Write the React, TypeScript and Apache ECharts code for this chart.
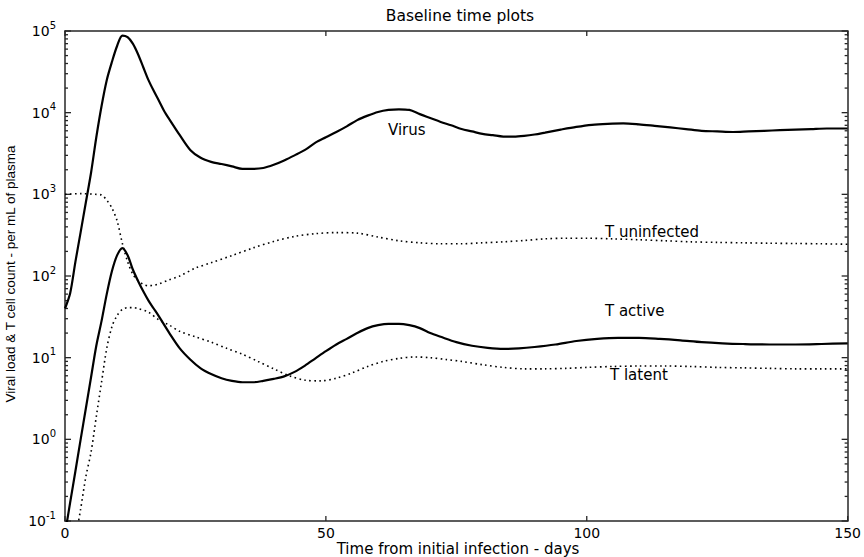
import React, { useEffect, useRef } from 'react';
import * as echarts from 'echarts';

const FONT = '"DejaVu Sans", Verdana, sans-serif';
const YFONT = '"Liberation Sans", Arial, sans-serif';
const FRAME = '#262626';

// ---- data (days, values per mL) ----
const virusDays = [0, 1, 2, 3, 4, 5, 6, 7, 8, 9, 10, 11, 12, 13, 14, 15, 16, 17, 18, 19, 20, 22, 24, 26, 28, 30, 32, 34, 36, 38, 40, 42, 44, 46, 48, 50, 52, 54, 56, 58, 60, 62, 64, 66, 68, 70, 72, 74, 76, 78, 80, 82, 84, 86, 88, 90, 92, 95, 98, 101, 104, 107, 110, 113, 116, 119, 122, 125, 128, 131, 134, 137, 140, 143, 146, 150];
const virusValues = [40, 62, 150, 345, 800, 1850, 5000, 12000, 25000, 42000, 66000, 88000, 84000, 70000, 52000, 36000, 25000, 18500, 14000, 10500, 8300, 5300, 3500, 2800, 2500, 2350, 2200, 2050, 2050, 2100, 2300, 2600, 3000, 3500, 4300, 5000, 5800, 6800, 8100, 9200, 10200, 10800, 11000, 10800, 9600, 8600, 7700, 7000, 6300, 5900, 5500, 5300, 5100, 5100, 5200, 5400, 5700, 6200, 6700, 7100, 7300, 7400, 7200, 6900, 6600, 6300, 6000, 5900, 5800, 5900, 6000, 6100, 6200, 6300, 6400, 6400];

const tUninfDays = [0, 3, 6, 7, 8, 9, 10, 11, 12, 13, 14, 15, 16, 17, 18, 20, 22, 25, 28, 32, 36, 40, 44, 48, 52, 56, 60, 64, 68, 72, 76, 80, 84, 88, 92, 96, 100, 105, 110, 115, 120, 125, 130, 135, 140, 145, 150];
const tUninfValues = [1000, 1020, 1000, 980, 850, 680, 470, 250, 150, 105, 88, 79, 76, 77, 80, 90, 100, 125, 145, 178, 220, 265, 305, 330, 340, 335, 300, 270, 255, 248, 248, 255, 262, 272, 285, 290, 290, 285, 278, 270, 262, 258, 255, 252, 250, 248, 245];

const tActiveDays = [0, 1, 2, 3, 4, 5, 6, 7, 8, 9, 10, 11, 12, 13, 14, 15, 16, 17, 18, 20, 22, 24, 26, 28, 30, 32, 34, 36, 38, 40, 42, 44, 46, 48, 50, 52, 54, 56, 58, 60, 62, 64, 66, 68, 70, 72, 75, 78, 81, 84, 87, 90, 94, 98, 102, 106, 110, 114, 118, 122, 126, 130, 135, 140, 145, 150];
const tActiveValues = [0.07, 0.17, 0.41, 1.0, 2.4, 5.8, 14, 28, 60, 115, 180, 220, 180, 120, 87, 65, 50, 40, 32, 20, 13, 9.5, 7.4, 6.3, 5.6, 5.2, 5.0, 5.0, 5.2, 5.5, 5.9, 6.7, 8.0, 9.8, 12, 14.5, 17, 20, 23, 25, 26, 26, 25, 23, 20, 18, 15.5, 14, 13.2, 12.8, 13, 13.5, 14.5, 16, 17, 17.5, 17.5, 17, 16.3, 15.5, 15, 14.7, 14.5, 14.5, 14.7, 15];

const tLatentDays = [0, 1, 2, 3, 4, 5, 6, 7, 8, 9, 10, 11, 12, 13, 14, 16, 18, 20, 22, 25, 28, 31, 34, 37, 40, 43, 46, 49, 52, 55, 58, 61, 64, 67, 70, 73, 76, 80, 84, 88, 92, 96, 100, 105, 110, 115, 120, 125, 130, 135, 140, 145, 150];
const tLatentValues = [0.011, 0.025, 0.06, 0.14, 0.35, 0.7, 1.9, 5, 13, 24, 33, 39, 41, 41, 40, 36, 29, 25, 21, 18, 15.5, 13, 11, 9, 7.3, 6, 5.3, 5.2, 5.6, 6.5, 7.8, 9, 9.8, 10.2, 10, 9.5, 9, 8.2, 7.6, 7.3, 7.3, 7.4, 7.6, 7.8, 7.9, 7.9, 7.8, 7.6, 7.5, 7.4, 7.3, 7.3, 7.3];

const xTicks = [0, 50, 100, 150];
const yDecadeExponents = [-1, 0, 1, 2, 3, 4, 5];
const minorMultipliers = [2, 3, 4, 5, 6, 7, 8, 9];

const labels = [
  { text: 'Virus', x: 388, y: 130 },
  { text: 'T uninfected', x: 605, y: 232 },
  { text: 'T active', x: 605, y: 311 },
  { text: 'T latent', x: 610, y: 375 },
];

const pairs = (d: number[], v: number[]) => d.map((x, i) => [x, v[i]]);

export default function App() {
  const ref = useRef<HTMLDivElement>(null);
  useEffect(() => {
    const chart = echarts.init(ref.current!, null, { renderer: 'svg' });
    const yMin = Math.pow(10, yDecadeExponents[0]);
    const yMax = Math.pow(10, yDecadeExponents[yDecadeExponents.length - 1]);
    const xMin = xTicks[0];
    const xMax = xTicks[xTicks.length - 1];
    // tick marks: [x, y, length, orientation(0 = on y sides, 1 = on x sides)]
    const tickMarks: number[][] = [];
    yDecadeExponents.forEach((e, i) => {
      tickMarks.push([xMin, Math.pow(10, e), 6, 0]);
      if (i < yDecadeExponents.length - 1) {
        minorMultipliers.forEach((m) => tickMarks.push([xMin, m * Math.pow(10, e), 3, 0]));
      }
    });
    xTicks.forEach((t) => tickMarks.push([t, yMin, 5, 1]));

    const axisLine = () => ({ show: true, onZero: false, lineStyle: { color: FRAME, width: 1.5 } });
    const solid = { color: '#000', width: 2.2, type: 'solid' as const };
    const dotted = { color: '#000', width: 1.6, type: [1.6, 3.4] };
    const tickStyle = { stroke: FRAME, lineWidth: 1.3 };
    chart.setOption({
      animation: false,
      grid: { left: 65, right: 13, top: 31, bottom: 36 },
      xAxis: [
        {
          type: 'value', min: xMin, max: xMax, interval: 50,
          axisLine: axisLine(), axisTick: { show: false },
          axisLabel: { color: '#000', fontFamily: FONT, fontSize: 14, margin: 5 },
          splitLine: { show: false },
        },
        {
          type: 'value', min: xMin, max: xMax, interval: 50, position: 'top',
          axisLine: axisLine(), axisTick: { show: false },
          axisLabel: { show: false }, splitLine: { show: false },
        },
      ],
      yAxis: [
        {
          type: 'log', logBase: 10, min: yMin, max: yMax,
          axisLine: axisLine(), axisTick: { show: false },
          axisLabel: {
            margin: 9,
            formatter: (v: number) => `{b|10}{e|${Math.round(Math.log10(v))}}`,
            rich: {
              b: { fontFamily: FONT, fontSize: 14, color: '#000', lineHeight: 22 },
              e: { fontFamily: FONT, fontSize: 10, color: '#000', verticalAlign: 'top' },
            },
          },
          splitLine: { show: false },
        },
        {
          type: 'log', logBase: 10, min: yMin, max: yMax, position: 'right',
          axisLine: axisLine(), axisTick: { show: false },
          axisLabel: { show: false }, splitLine: { show: false },
        },
      ],
      series: [
        { name: 'Virus', type: 'line', data: pairs(virusDays, virusValues), showSymbol: false, smooth: 0.3, lineStyle: solid },
        { name: 'T uninfected', type: 'line', data: pairs(tUninfDays, tUninfValues), showSymbol: false, smooth: 0.3, lineStyle: dotted },
        { name: 'T active', type: 'line', data: pairs(tActiveDays, tActiveValues), showSymbol: false, smooth: 0.3, lineStyle: solid },
        { name: 'T latent', type: 'line', data: pairs(tLatentDays, tLatentValues), showSymbol: false, smooth: 0.3, lineStyle: dotted },
        {
          type: 'custom', silent: true, data: tickMarks,
          renderItem: (_p: any, api: any) => {
            const len = api.value(2);
            if (api.value(3) === 0) {
              const v = api.value(1);
              const l = api.coord([xMin, v]);
              const r = api.coord([xMax, v]);
              return {
                type: 'group',
                children: [
                  { type: 'line', shape: { x1: l[0], y1: l[1], x2: l[0] + len, y2: l[1] }, style: tickStyle },
                  { type: 'line', shape: { x1: r[0] - len, y1: r[1], x2: r[0], y2: r[1] }, style: tickStyle },
                ],
              };
            }
            const x = api.value(0);
            const b = api.coord([x, yMin]);
            const t = api.coord([x, yMax]);
            return {
              type: 'group',
              children: [
                { type: 'line', shape: { x1: b[0], y1: b[1], x2: b[0], y2: b[1] - len }, style: tickStyle },
                { type: 'line', shape: { x1: t[0], y1: t[1], x2: t[0], y2: t[1] + len }, style: tickStyle },
              ],
            };
          },
        },
      ],
      graphic: [
        { type: 'text', x: 460, y: 16, style: { text: 'Baseline time plots', fontFamily: FONT, fontSize: 15.5, fill: '#000', align: 'center', verticalAlign: 'middle' } },
        { type: 'text', x: 458, y: 549, style: { text: 'Time from initial infection - days', fontFamily: FONT, fontSize: 15, fill: '#000', align: 'center', verticalAlign: 'middle' } },
        { type: 'text', x: 10, y: 274, rotation: Math.PI / 2, style: { text: 'Viral load & T cell count - per mL of plasma', fontFamily: YFONT, fontSize: 13.5, fill: '#000', align: 'center', verticalAlign: 'middle' } },
        ...labels.map((l) => ({ type: 'text', x: l.x, y: l.y, style: { text: l.text, fontFamily: FONT, fontSize: 15, fill: '#000', verticalAlign: 'middle' } })),
      ],
    });
    return () => chart.dispose();
  }, []);
  return <div ref={ref} style={{ position: 'fixed', left: 0, top: 0, width: 864, height: 557, background: '#fff' }} />;
}
